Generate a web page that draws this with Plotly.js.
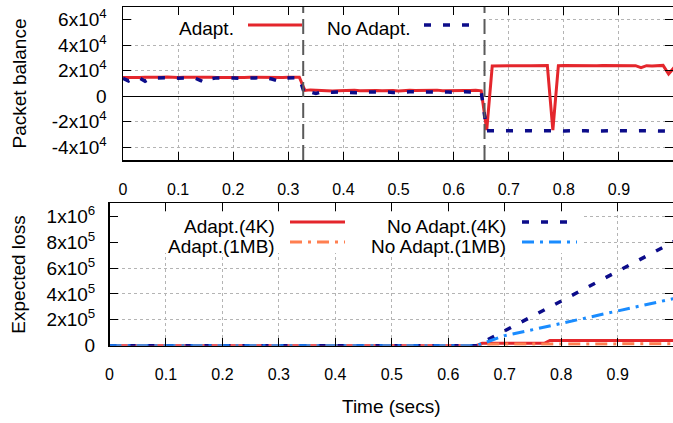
<!DOCTYPE html>
<html>
<head>
<meta charset="utf-8">
<script src="https://cdn.plot.ly/plotly-3.0.1.min.js"></script>
<style>html,body{margin:0;padding:0;background:#fff;}#chart{width:673px;height:423px;}</style>
</head>
<body>
<div id="chart"></div>
<script>
// ---------- data ----------
const timeTop = [0.00,0.01,0.02,0.03,0.04,0.05,0.06,0.07,0.08,0.09,
  0.10,0.11,0.12,0.13,0.14,0.15,0.16,0.17,0.18,0.19,
  0.20,0.21,0.22,0.23,0.24,0.25,0.26,0.27,0.28,0.29,
  0.30,0.31,0.32,0.33,0.34,0.35,0.36,0.37,0.38,0.39,
  0.40,0.41,0.42,0.43,0.44,0.45,0.46,0.47,0.48,0.49,
  0.50,0.51,0.52,0.53,0.54,0.55,0.56,0.57,0.58,0.59,
  0.60,0.61,0.62,0.63,0.64,0.65,0.66,0.67,0.68,0.69,
  0.70,0.71,0.72,0.73,0.74,0.75,0.76,0.77,0.78,0.79,
  0.80,0.81,0.82,0.83,0.84,0.85,0.86,0.87,0.88,0.89,
  0.90,0.91,0.92,0.93,0.94,0.95,0.96,0.97,0.98,0.99,1.00];

const balanceAdapt = [14800,14600,14900,14700,15000,14800,14600,14900,15100,14800,
  14700,14900,15000,14700,14600,14900,15000,14800,14700,15000,
  14900,14700,14800,15000,14900,14700,14900,15000,14800,14700,
  14900,15000,14900,4600,5000,4800,4500,4700,4200,4400,
  4600,4500,4700,4300,4500,4800,4600,4400,4700,4500,
  4200,4600,4800,4500,4700,4400,4600,4800,4300,4500,
  4700,4400,4600,4500,4700,4300,-26500,23800,24000,24100,
  23900,24000,24200,24000,23900,24100,24000,24100,-26500,24000,
  24100,24000,23900,24000,24100,24000,23900,24100,24000,24200,
  24000,23800,24100,24000,22500,24000,23800,24000,24200,17500,22500];

const balanceNoAdapt = [14000,12000,14500,14300,11800,14200,14400,14600,14300,14500,
  14200,14400,14600,14300,12500,10500,13800,14400,14300,14500,
  14400,14200,14500,14300,14400,14200,14500,13500,12200,14300,
  14500,14400,14600,1200,3200,2200,3300,3500,3100,3400,
  3300,3500,3200,2700,3300,3400,3100,3500,3300,3000,
  3400,3200,3500,3300,3100,3400,3300,3200,3500,3300,
  3100,3400,3500,3300,3600,3600,-27000,-26800,-27000,-27200,
  -26900,-27000,-27100,-26800,-27000,-27200,-27000,-26900,-27100,-27000,
  -27200,-27000,-26900,-27100,-27000,-27300,-27100,-27000,-27200,-27100,
  -27000,-27200,-27300,-27100,-27000,-27200,-27300,-27100,-27200,-27300,-27200];

const phaseChanges = [0.327, 0.656];

const timeLoss = [0,0.1,0.2,0.3,0.4,0.5,0.6,0.65,0.66,0.7,0.75,0.77,0.78,0.8,0.85,0.9,0.95,1.0];
const lossAdapt4K    = [0,0,0,0,0,0,0,0,18000,18000,18000,18000,40000,40000,40000,40000,40000,40000];
const lossAdapt1MB   = [0,0,0,0,0,0,0,0,12000,13000,13000,13000,15000,15000,15000,15000,15000,15000];
const lossNoAdapt4K  = [0,0,0,0,0,0,0,0,23000,115000,230000,276000,299000,345000,460000,575000,690000,805000];
const lossNoAdapt1MB = [0,0,0,0,0,0,0,0,16000,78000,124000,143000,152000,170000,219000,268000,316000,365000];

const xTickVals = [0,0.1,0.2,0.3,0.4,0.5,0.6,0.7,0.8,0.9];
const xTickText = ["0","0.1","0.2","0.3","0.4","0.5","0.6","0.7","0.8","0.9"];
const balTickVals = [-40000,-20000,0,20000,40000,60000];
const balTickText = ["-4x10<sup>4</sup>","-2x10<sup>4</sup>","0","2x10<sup>4</sup>","4x10<sup>4</sup>","6x10<sup>4</sup>"];
const lossTickVals = [0,200000,400000,600000,800000,1000000];
const lossTickText = ["0","2x10<sup>5</sup>","4x10<sup>5</sup>","6x10<sup>5</sup>","8x10<sup>5</sup>","1x10<sup>6</sup>"];

const topNames = ["Adapt.","No Adapt."];
const lossNames = ["Adapt.(4K)","Adapt.(1MB)","No Adapt.(4K)","No Adapt.(1MB)"];

// ---------- styles ----------
const W = 673, H = 423;
const FONT = "Liberation Sans, Arial, Helvetica, sans-serif";
const RED = "#e4262c", NAVY = "#0c0c8a", CORAL = "#ff7f50", SKY = "#1a8cff";
const styles = {
  adapt:   {color: RED,   width: 3,   dash: "solid"},
  noadapt: {color: NAVY,  width: 3.5, dash: "7px,12px"},
  a1mb:    {color: CORAL, width: 3,   dash: "12px,6px,3px,6px"},
  n1mb:    {color: SKY,   width: 3,   dash: "12px,6px,3px,6px"}
};

const traces = [
  {x: timeTop, y: balanceAdapt,   type: "scatter", mode: "lines", name: topNames[0], xaxis: "x", yaxis: "y", line: styles.adapt},
  {x: timeTop, y: balanceNoAdapt, type: "scatter", mode: "lines", name: topNames[1], xaxis: "x", yaxis: "y", line: styles.noadapt},
  {x: timeLoss, y: lossAdapt4K,    type: "scatter", mode: "lines", name: lossNames[0], xaxis: "x2", yaxis: "y2", line: styles.adapt},
  {x: timeLoss, y: lossAdapt1MB,   type: "scatter", mode: "lines", name: lossNames[1], xaxis: "x2", yaxis: "y2", line: styles.a1mb},
  {x: timeLoss, y: lossNoAdapt4K,  type: "scatter", mode: "lines", name: lossNames[2], xaxis: "x2", yaxis: "y2", line: styles.noadapt},
  {x: timeLoss, y: lossNoAdapt1MB, type: "scatter", mode: "lines", name: lossNames[3], xaxis: "x2", yaxis: "y2", line: styles.n1mb}
];

function px(v){ return v / W; }
function py(v){ return 1 - v / H; }

const axisCommon = {
  showline: true, linecolor: "#000", linewidth: 1.5, mirror: "ticks",
  ticks: "inside", ticklen: 8, tickwidth: 1, tickcolor: "#000",
  showgrid: true, gridcolor: "#b4b4b4", griddash: "dot", gridwidth: 1,
  zeroline: false, fixedrange: true
};

const layout = {
  width: W, height: H,
  margin: {l: 0, r: 0, t: 0, b: 0, pad: 0},
  paper_bgcolor: "#fff", plot_bgcolor: "#fff",
  showlegend: false,
  font: {family: FONT, color: "#000"},
  xaxis: Object.assign({}, axisCommon, {
    domain: [px(123), 1], range: [0, 0.998], anchor: "y",
    tickvals: xTickVals, ticktext: xTickText, tickfont: {size: 16, family: FONT},
    ticklabelstandoff: 14
  }),
  yaxis: Object.assign({}, axisCommon, {
    domain: [py(160), py(7)], range: [-50000, 70000], anchor: "x",
    tickvals: balTickVals, ticktext: balTickText, tickfont: {size: 19, family: FONT},
    ticklabelstandoff: 11,
    zeroline: true, zerolinecolor: "#000", zerolinewidth: 1,
    title: {text: "Packet balance", font: {size: 19, family: FONT}, standoff: 20}
  }),
  xaxis2: Object.assign({}, axisCommon, {
    domain: [px(109.5), 1], range: [0, 0.998], anchor: "y2",
    tickvals: xTickVals, ticktext: xTickText, tickfont: {size: 16, family: FONT},
    ticklabelstandoff: 14,
    title: {text: "Time (secs)", font: {size: 19, family: FONT}, standoff: 17}
  }),
  yaxis2: Object.assign({}, axisCommon, {
    domain: [py(345.7), py(203.3)], range: [0, 1100000], anchor: "x2",
    tickvals: lossTickVals, ticktext: lossTickText, tickfont: {size: 19, family: FONT},
    ticklabelstandoff: 9,
    title: {text: "Expected loss", font: {size: 19, family: FONT}, standoff: 16}
  }),
  shapes: [],
  annotations: []
};

// legend boxes (opaque, like gnuplot key)
layout.shapes.push({type: "rect", xref: "paper", yref: "paper", layer: "above",
  x0: px(132), x1: px(486), y0: py(41), y1: py(15), fillcolor: "#fff", line: {width: 0}});
layout.shapes.push({type: "rect", xref: "paper", yref: "paper", layer: "above",
  x0: px(118), x1: px(581), y0: py(253), y1: py(212), fillcolor: "#fff", line: {width: 0}});

// phase change markers (gray long dashes), top plot only
phaseChanges.forEach(t => layout.shapes.push({type: "line", xref: "x", yref: "y domain", layer: "above",
  x0: t, x1: t, y0: 0, y1: 1, line: {color: "#5a5a5a", width: 2, dash: "15px,6px"}}));

// legend entries: text then sample (gnuplot style)
const legendItems = [
  {name: topNames[0],  style: styles.adapt,   tx: 236, ty: 29,  s0: 248, s1: 302, sy: 25},
  {name: topNames[1],  style: styles.noadapt, tx: 412, ty: 29,  s0: 424, s1: 478, sy: 25},
  {name: lossNames[0], style: styles.adapt,   tx: 277, ty: 226, s0: 290, s1: 345, sy: 222},
  {name: lossNames[1], style: styles.a1mb,    tx: 277, ty: 247, s0: 290, s1: 345, sy: 242},
  {name: lossNames[2], style: styles.noadapt, tx: 508, ty: 226, s0: 522, s1: 577, sy: 222},
  {name: lossNames[3], style: styles.n1mb,    tx: 508, ty: 247, s0: 522, s1: 577, sy: 242}
];
legendItems.forEach(it => {
  layout.annotations.push({xref: "paper", yref: "paper", x: px(it.tx), y: py(it.ty),
    xanchor: "right", yanchor: "middle", showarrow: false, text: it.name,
    font: {size: 19, family: FONT, color: "#000"}});
  layout.shapes.push({type: "line", xref: "paper", yref: "paper", layer: "above",
    x0: px(it.s0), x1: px(it.s1), y0: py(it.sy), y1: py(it.sy),
    line: {color: it.style.color, width: it.style.width, dash: it.style.dash}});
});

Plotly.newPlot("chart", traces, layout, {staticPlot: true, displayModeBar: false});
</script>
</body>
</html>
